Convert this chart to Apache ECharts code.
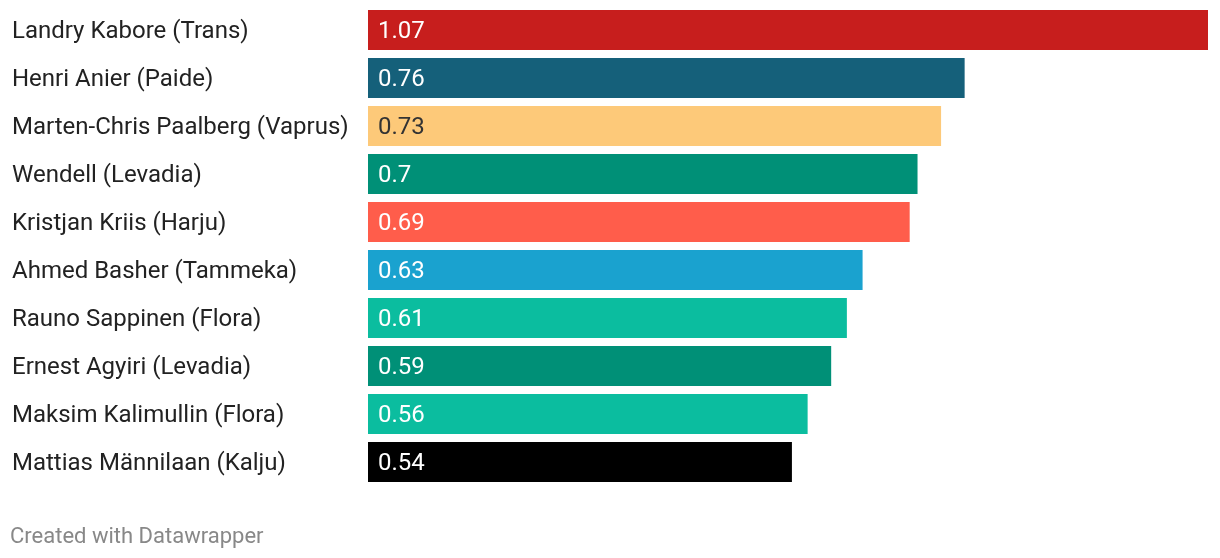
<!DOCTYPE html>
<html><head><meta charset="utf-8">
<script src="https://cdn.jsdelivr.net/npm/echarts@6/dist/echarts.min.js"></script>
<style>html,body{margin:0;padding:0;background:#fff}#c{width:1220px;height:558px}</style>
</head><body><div id="c"></div>
<script>
const players = ["Landry Kabore (Trans)","Henri Anier (Paide)","Marten-Chris Paalberg (Vaprus)","Wendell (Levadia)","Kristjan Kriis (Harju)","Ahmed Basher (Tammeka)","Rauno Sappinen (Flora)","Ernest Agyiri (Levadia)","Maksim Kalimullin (Flora)","Mattias Männilaan (Kalju)"];
const values = [1.07,0.76,0.73,0.7,0.69,0.63,0.61,0.59,0.56,0.54];
const barColors = ["#c71e1d","#15607a","#fdc979","#009077","#ff5d4b","#1aa2cf","#0bbd9f","#009077","#0bbd9f","#000000"];
const labelColors = ["#fff","#fff","#333","#fff","#fff","#fff","#fff","#fff","#fff","#fff"];
const chart = echarts.init(document.getElementById('c'), null, {renderer:'canvas'});
chart.setOption({
  animation:false,
  grid:{left:368,right:12,top:6,height:480},
  xAxis:{type:'value',min:0,max:1.07,show:false},
  yAxis:{type:'category',inverse:true,data:players,
    axisLine:{show:false},axisTick:{show:false},
    axisLabel:{align:'left',margin:356,formatter:'{a|{value}}',
      rich:{a:{fontFamily:'Roboto',fontSize:24,color:'#222',padding:[4,0,0,0]}}}},
  series:[{type:'bar',barWidth:40,
    data:values.map((v,i)=>({value:v,itemStyle:{color:barColors[i]},label:{color:labelColors[i]}})),
    label:{show:true,position:'insideLeft',distance:10,offset:[0,2],fontFamily:'Roboto',fontSize:24}}],
  graphic:[{type:'text',left:10,top:526,style:{text:'Created with Datawrapper',fontFamily:'Roboto',fontSize:22,fill:'#888'}}]
});
</script></body></html>
